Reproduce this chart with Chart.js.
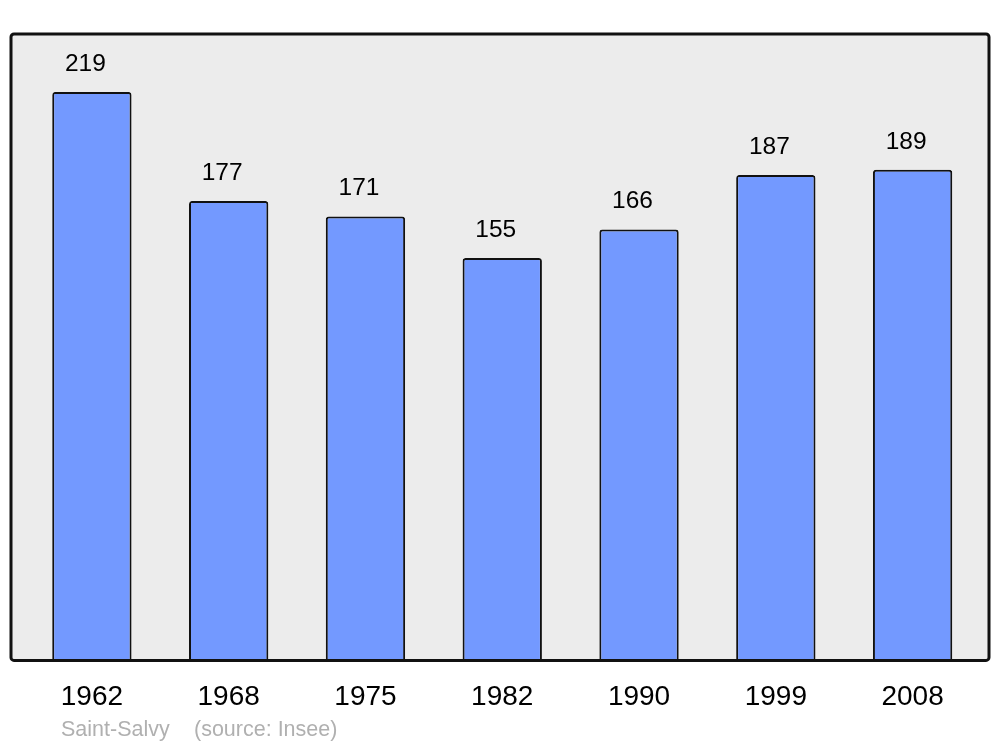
<!DOCTYPE html>
<html>
<head>
<meta charset="utf-8">
<script src="https://cdn.jsdelivr.net/npm/chart.js@4"></script>
<style>
  html, body { margin: 0; padding: 0; background: #ffffff; }
  #wrap { width: 1000px; height: 747px; }
</style>
</head>
<body>
<div id="wrap"><canvas id="chart" width="1000" height="747"></canvas></div>
<script>
const years = ['1962', '1968', '1975', '1982', '1990', '1999', '2008'];
const population = [219, 177, 171, 155, 166, 187, 189];
const footerName = 'Saint-Salvy';
const footerSource = '(source: Insee)';

// frame drawn around the plot, a bit wider than the category area
const framePlugin = {
    id: 'frame',
    beforeDatasetsDraw(chart) {
        const { ctx, chartArea } = chart;
        ctx.save();
        ctx.fillStyle = '#ececec';
        ctx.beginPath();
        ctx.roundRect(chartArea.left - 12.5, chartArea.top, chartArea.width + 20.5, chartArea.height, 3);
        ctx.fill();
        ctx.restore();
    },
    afterDatasetsDraw(chart) {
        const { ctx, chartArea } = chart;
        ctx.save();
        ctx.strokeStyle = '#111111';
        ctx.lineWidth = 3;
        ctx.beginPath();
        ctx.roundRect(chartArea.left - 12.5, chartArea.top, chartArea.width + 20.5, chartArea.height, 3);
        ctx.stroke();

        // value labels above each bar
        ctx.fillStyle = '#000000';
        ctx.font = '24.5px "Liberation Sans", Arial, sans-serif';
        ctx.textAlign = 'center';
        ctx.textBaseline = 'middle';
        chart.getDatasetMeta(0).data.forEach((bar, i) => {
            ctx.fillText(String(population[i]), bar.x - 6.5, bar.y - 28);
        });

        // footer
        ctx.fillStyle = '#b0b0b0';
        ctx.font = '21.5px "Liberation Sans", Arial, sans-serif';
        ctx.textAlign = 'left';
        ctx.fillText(footerName, 61, 730);
        ctx.fillText(footerSource, 194, 730);
        ctx.restore();
    }
};

new Chart(document.getElementById('chart').getContext('2d'), {
    type: 'bar',
    data: {
        labels: years,
        datasets: [{
            data: population,
            backgroundColor: '#7399ff',
            borderColor: '#111111',
            borderWidth: 2,
            borderRadius: { topLeft: 3, topRight: 3 },
            borderSkipped: 'bottom',
            barPercentage: 0.58,
            categoryPercentage: 1
        }]
    },
    options: {
        responsive: false,
        animation: false,
        layout: {
            padding: { left: 23.5, right: 19, top: 34, bottom: 21 }
        },
        plugins: {
            legend: { display: false },
            tooltip: { enabled: false },
            title: { display: false }
        },
        scales: {
            y: {
                display: false,
                min: 0,
                max: 241.3
            },
            x: {
                grid: { display: false },
                border: { display: false },
                ticks: {
                    color: '#000000',
                    padding: 12,
                    font: { family: '"Liberation Sans", Arial, sans-serif', size: 28 }
                }
            }
        }
    },
    plugins: [framePlugin]
});
</script>
</body>
</html>
